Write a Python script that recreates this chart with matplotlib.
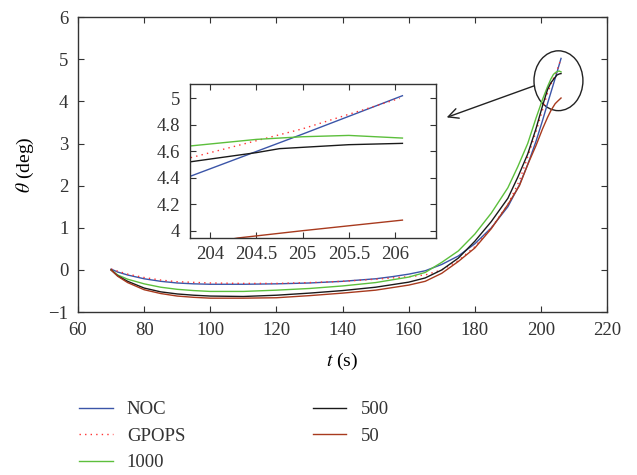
import matplotlib
matplotlib.use('Agg')
import matplotlib.pyplot as plt
from matplotlib.patches import Ellipse

# theta (deg) vs t (s) for each method
t_noc = [70, 72, 75, 80, 85, 90, 95, 100, 110, 120, 130, 140, 150, 155, 160, 165, 170,
         175, 180, 185, 190, 193.5, 196, 198.5, 200.5, 202, 203.78, 205, 206.08]
th_noc = [0.02, -0.05, -0.12, -0.21, -0.27, -0.31, -0.33, -0.34, -0.34, -0.33, -0.31, -0.27,
          -0.21, -0.16, -0.10, -0.02, 0.13, 0.33, 0.62, 1.0, 1.5, 2.02, 2.5, 3.05, 3.55, 3.95,
          4.41, 4.73, 5.02]

t_gpops = [70, 75, 80, 85, 90, 100, 110, 120, 130, 140, 150, 155, 160, 165, 170, 175, 180,
           185, 190, 193.5, 196, 198.5, 200.5, 202, 203.78, 204.5, 205, 206.05]
th_gpops = [0.02, -0.10, -0.18, -0.24, -0.28, -0.31, -0.32, -0.32, -0.30, -0.27, -0.22, -0.19,
            -0.16, -0.12, 0.0, 0.22, 0.55, 1.0, 1.55, 2.12, 2.68, 3.28, 3.8, 4.2, 4.55, 4.68,
            4.77, 5.0]

t_1000 = [70, 72, 75, 80, 85, 90, 95, 100, 110, 120, 130, 140, 150, 160, 165, 170, 175,
          180, 185, 190, 193, 196, 198.5, 200.5, 202, 203, 203.78, 204.5, 205, 205.5, 206.08]
th_1000 = [0.0, -0.12, -0.22, -0.33, -0.41, -0.46, -0.49, -0.51, -0.51, -0.48, -0.44, -0.38,
           -0.30, -0.17, -0.06, 0.18, 0.45, 0.85, 1.35, 1.95, 2.45, 3.0, 3.6, 4.05, 4.35, 4.53,
           4.64, 4.69, 4.71, 4.72, 4.70]

t_500 = [70, 72, 75, 80, 85, 90, 95, 100, 110, 120, 130, 140, 150, 160, 165, 170, 175,
         180, 185, 190, 193, 196, 198.5, 200.5, 202, 203, 203.78, 204.5, 204.75, 205, 205.5,
         206.08]
th_500 = [0.0, -0.14, -0.27, -0.43, -0.52, -0.57, -0.60, -0.62, -0.63, -0.60, -0.55, -0.49,
          -0.41, -0.29, -0.19, 0.0, 0.28, 0.68, 1.15, 1.7, 2.2, 2.75, 3.35, 3.9, 4.28, 4.44,
          4.52, 4.59, 4.62, 4.63, 4.65, 4.66]

t_50 = [70, 72, 75, 80, 85, 90, 95, 100, 110, 120, 130, 140, 150, 160, 165, 170, 175,
        180, 185, 190, 193.5, 196, 198.5, 200.5, 202, 203, 204.3, 205, 206.08]
th_50 = [0.0, -0.15, -0.30, -0.47, -0.56, -0.62, -0.65, -0.67, -0.67, -0.66, -0.61, -0.55,
         -0.48, -0.36, -0.27, -0.08, 0.2, 0.52, 0.98, 1.55, 2.0, 2.5, 2.95, 3.35, 3.62, 3.78,
         3.945, 4.0, 4.08]

labels = ['NOC', 'GPOPS', '1000', '500', '50']
colors = ['#3b55a8', '#ff3333', '#5cbf3c', '#1a1a1a', '#a83a1e']
styles = ['-', ':', '-', '-', '-']

plt.rcParams['font.family'] = ['Liberation Serif', 'DejaVu Serif']
plt.rcParams['mathtext.fontset'] = 'stix'
plt.rcParams['font.size'] = 13.5
plt.rcParams['text.color'] = '#333333'
plt.rcParams['axes.edgecolor'] = '#333333'
plt.rcParams['xtick.color'] = '#333333'
plt.rcParams['ytick.color'] = '#333333'


def style_axes(ax, xpad, ypad):
    ax.tick_params(direction='in', top=True, right=True, length=4, width=0.8,
                   labelsize=13.5)
    ax.tick_params(axis='x', pad=xpad)
    ax.tick_params(axis='y', pad=ypad)
    for s in ax.spines.values():
        s.set_linewidth(1.0)


fig = plt.figure(figsize=(6.37, 4.75), dpi=100)
ax = fig.add_axes([0.1225, 0.343, 0.8305, 0.621])

series = [(t_noc, th_noc), (t_gpops, th_gpops), (t_1000, th_1000), (t_500, th_500), (t_50, th_50)]
for (t, th), lab, c, ls in zip(series, labels, colors, styles):
    ax.plot(t, th, color=c, linestyle=ls, linewidth=1.0, label=lab,
            dashes=(1, 3) if ls == ':' else (None, None))

ax.set_xlim(60, 220)
ax.set_ylim(-1, 6)
ax.set_xticks(range(60, 221, 20))
ax.set_yticks(range(-1, 7))
ax.set_xlabel(r'$t$ (s)', fontsize=14, labelpad=9)
ax.set_ylabel(r'$\theta$ (deg)', fontsize=14, labelpad=9)
style_axes(ax, 7, 7)

# zoom marker and arrow
ax.add_patch(Ellipse((205.3, 4.49), 14.8, 1.42, fill=False, edgecolor='#222222', linewidth=1.0))
ax.annotate('', xy=(171.5, 3.62), xytext=(198.0, 4.37),
            arrowprops=dict(arrowstyle='->', color='#222222', linewidth=1.0,
                            mutation_scale=18, shrinkA=0, shrinkB=0))

leg = ax.legend(loc='upper left', bbox_to_anchor=(79 / 637, 1 - 401 / 475),
                bbox_transform=fig.transFigure, ncol=2, frameon=False,
                fontsize=13.5, handlelength=1.8, handletextpad=0.75, columnspacing=6.8,
                labelspacing=0.5, borderpad=0, borderaxespad=0)

# inset
axin = fig.add_axes([0.298, 0.499, 0.386, 0.324])
for (t, th), c, ls in zip(series, colors, styles):
    axin.plot(t, th, color=c, linestyle=ls, linewidth=1.0,
              dashes=(1, 3) if ls == ':' else (None, None))
axin.set_xlim(203.78, 206.44)
axin.set_ylim(3.945, 5.108)
axin.set_xticks([204, 204.5, 205, 205.5, 206])
axin.set_xticklabels(['204', '204.5', '205', '205.5', '206'])
axin.set_yticks([4, 4.2, 4.4, 4.6, 4.8, 5])
axin.set_yticklabels(['4', '4.2', '4.4', '4.6', '4.8', '5'])
style_axes(axin, 6, 7)

fig.savefig('out.png', dpi=100)
